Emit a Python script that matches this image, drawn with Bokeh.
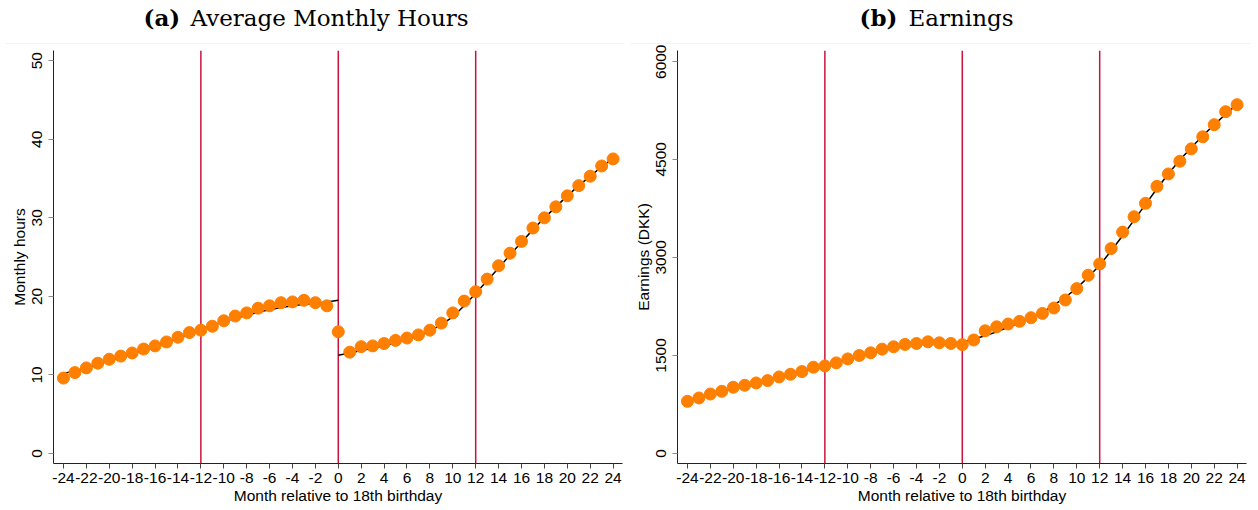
from bokeh.plotting import figure
from bokeh.models import Span, FixedTicker
from bokeh.layouts import column, row
from bokeh.core.properties import value
from bokeh.embed import file_html
from bokeh.resources import INLINE

# ---------------- data ----------------
months = list(range(-24, 25))
hours = [9.6, 10.3, 10.9, 11.5, 12.0, 12.4, 12.8, 13.3, 13.7, 14.2, 14.8, 15.4,
         15.7, 16.2, 16.9, 17.5, 17.9, 18.5, 18.8, 19.2, 19.3, 19.5, 19.2, 18.8,
         15.5,
         12.9, 13.6, 13.7, 14.0, 14.4, 14.7, 15.1, 15.7, 16.6, 17.9, 19.4, 20.6,
         22.2, 23.9, 25.5, 27.0, 28.7, 30.0, 31.4, 32.8, 34.1, 35.3, 36.6, 37.5]
earnings = [798, 849, 910, 951, 1013, 1043, 1079, 1115, 1171, 1212, 1253, 1320,
            1340, 1386, 1447, 1499, 1540, 1596, 1632, 1668, 1683, 1708, 1693, 1683,
            1665,
            1736, 1877, 1938, 1980, 2021, 2077, 2143, 2225, 2348, 2522, 2726, 2900,
            3135, 3386, 3621, 3826, 4086, 4276, 4470, 4660, 4844, 5029, 5228, 5335]

fit_months_pre = list(range(-24, 1))
fit_months_post = list(range(0, 25))
hours_fit_pre = [10.2, 10.5, 10.9, 11.3, 11.8, 12.2, 12.7, 13.2, 13.7, 14.2, 14.7, 15.2,
                 15.8, 16.3, 16.8, 17.2, 17.6, 18.0, 18.3, 18.6, 18.8, 19.0, 19.1, 19.3, 19.5]
hours_fit_post = [12.5, 12.8, 13.1, 13.4, 13.7, 14.1, 14.5, 15.0, 15.6, 16.4, 17.4, 18.8,
                  20.4, 22.0, 23.6, 25.3, 26.9, 28.5, 30.0, 31.4, 32.8, 34.1, 35.3, 36.5, 37.6]
earn_fit_pre = [815, 860, 900, 945, 990, 1030, 1075, 1120, 1165, 1210, 1255, 1300,
                1345, 1395, 1440, 1485, 1530, 1570, 1610, 1640, 1665, 1680, 1690, 1690, 1690]
earn_fit_post = [1700, 1750, 1800, 1860, 1930, 2000, 2070, 2160, 2270, 2390, 2530, 2700,
                 2880, 3100, 3330, 3570, 3810, 4050, 4280, 4490, 4680, 4860, 5030, 5190, 5340]

x_ticks = list(range(-24, 25, 2))
x_tick_labels = [str(t) for t in x_ticks]
hours_ticks = [0, 10, 20, 30, 40, 50]
earn_ticks = [0, 1500, 3000, 4500, 6000]
cutoffs = [-12, 0, 12]

panel_a = ("(a)", "Average Monthly Hours", "Monthly hours")
panel_b = ("(b)", "Earnings", "Earnings (DKK)")

# ---------------- styling ----------------
ORANGE = "#FF7F00"
RED = "#C8143C"
SANS = "Liberation Sans"
SERIF = "DejaVu Serif"
TITLE_H = 44
MAIN_H = 466
FS = "15.5px"


def make_title(width, labels, x_bold, x_text, rule_x0, rule_x1):
    t = figure(width=width, height=TITLE_H, output_backend="svg", toolbar_location=None,
               x_range=(0, width), y_range=(0, TITLE_H), min_border=0)
    t.axis.visible = False
    t.grid.visible = False
    t.outline_line_color = None
    t.line([rule_x0, rule_x1], [0.5, 0.5], line_color="#e6e6e6", line_width=1)
    t.text([x_bold], [27], text=[labels[0]], text_font=value(SERIF),
           text_font_style="bold", text_font_size="23px", text_color="black",
           text_baseline="alphabetic", text_align="left")
    t.text([x_text], [27], text=[labels[1]], text_font=value(SERIF),
           text_font_style="normal", text_font_size="23px", text_color="black",
           text_baseline="alphabetic", text_align="left")
    return t


def make_panel(y, fit_pre, fit_post, yticks, yrange, labels, width, border_l, border_r):
    p = figure(width=width, height=MAIN_H, output_backend="svg", toolbar_location=None,
               x_range=(-24.87, 24.82), y_range=yrange,
               min_border_left=border_l, min_border_right=border_r,
               min_border_top=6, min_border_bottom=47)
    p.outline_line_color = None
    p.xgrid.visible = False
    p.ygrid.visible = False

    for c in cutoffs:
        p.add_layout(Span(location=c, dimension="height", line_color=RED,
                          line_width=1.5, level="underlay"))

    p.line(fit_months_pre, fit_pre, line_color="black", line_width=1.5)
    p.line(fit_months_post, fit_post, line_color="black", line_width=1.5)
    p.scatter(months, y, size=12, fill_color=ORANGE, line_color=ORANGE)

    xa = p.xaxis[0]
    xa.ticker = FixedTicker(ticks=x_ticks)
    xa.major_label_overrides = {t: l for t, l in zip(x_ticks, x_tick_labels)}
    xa.axis_label = "Month relative to 18th birthday"
    xa.axis_label_text_font = SANS
    xa.axis_label_text_font_style = "normal"
    xa.axis_label_text_font_size = FS
    xa.axis_label_text_color = "black"
    xa.major_label_text_font = SANS
    xa.major_label_text_font_size = FS
    xa.major_label_text_color = "black"
    xa.major_label_standoff = 4
    xa.axis_label_standoff = 1
    xa.major_tick_in = 0
    xa.major_tick_out = 5
    xa.minor_tick_line_color = None
    xa.axis_line_color = "#222222"
    xa.major_tick_line_color = "#444444"

    ya = p.yaxis[0]
    ya.ticker = FixedTicker(ticks=yticks)
    ya.axis_label = labels[2]
    ya.axis_label_text_font = SANS
    ya.axis_label_text_font_style = "normal"
    ya.axis_label_text_font_size = FS
    ya.axis_label_text_color = "black"
    ya.major_label_text_font = SANS
    ya.major_label_text_font_size = FS
    ya.major_label_text_color = "black"
    ya.major_label_orientation = "vertical"
    ya.major_label_standoff = 6
    ya.axis_label_standoff = 2
    ya.major_tick_in = 0
    ya.major_tick_out = 5
    ya.minor_tick_line_color = None
    ya.axis_line_color = "#222222"
    ya.major_tick_line_color = "#888888"
    return p


ta = make_title(624, panel_a, 143, 190, 5, 624)
tb = make_title(634, panel_b, 235, 284, 6, 626)
pa = make_panel(hours, hours_fit_pre, hours_fit_post, hours_ticks, (-1.27, 51.3),
                panel_a, 624, 53, 2)
pb = make_panel(earnings, earn_fit_pre, earn_fit_post, earn_ticks, (-153, 6164),
                panel_b, 634, 53, 12)

layout = column(row(ta, tb, spacing=0), row(pa, pb, spacing=0), spacing=0)
open("out.html", "w").write(file_html(layout, INLINE))
